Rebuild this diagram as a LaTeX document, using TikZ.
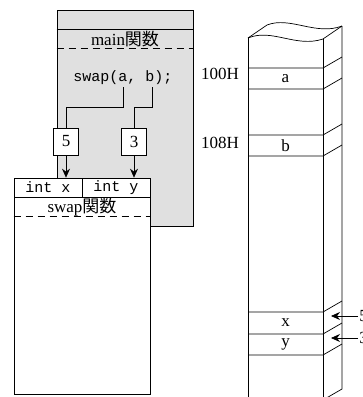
\documentclass[tikz,border=0pt]{standalone}
\usepackage{fontspec}
\setmainfont{Liberation Serif}
\setmonofont{Liberation Mono}
\newfontfamily\jp{Noto Sans CJK JP}
\usetikzlibrary{arrows.meta}

\begin{document}
\begin{tikzpicture}[x=1pt, y=-1pt, line width=0.7pt, font=\fontsize{17}{20}\selectfont]
        % Define styles
        \tikzstyle{frame} = [rectangle, draw=black, inner sep=0pt, minimum width=136pt, minimum height=216pt]
        \tikzstyle{valbox} = [rectangle, draw=black, fill=white, minimum width=25pt, minimum height=27pt, inner sep=0pt]
        \tikzstyle{cell} = [rectangle, draw=black, fill=white, minimum width=68pt, minimum height=19pt, inner sep=0pt, font=\fontsize{15}{17}\ttfamily]
        \tikzstyle{dashline} = [dash pattern=on 7pt off 5pt]
        \tikzstyle{arrow} = [-{Stealth[length=9pt, width=8pt, inset=3pt]}]

        \useasboundingbox (0,0) rectangle (363,397);

        % Nodes
        \node (mainfn) [frame, fill=black!12] at (125,118) {};
        \draw (mainfn.west |- 0,29) -- (mainfn.east |- 0,29);
        \draw [dashline] (mainfn.west |- 0,48) -- (mainfn.east |- 0,48);
        \node (mainlbl) at (125,39) {main{\jp 関数}};
        \node (call) [font=\fontsize{15}{17}\ttfamily] at (123,78) {swap(a, b);};
        \coordinate (pa) at (123,87);
        \coordinate (pb) at (152,87);

        \node (swapfn) [frame, fill=white] at (82,286) {};
        \node (intx) [cell] at (48,187.5) {int x};
        \node (inty) [cell] at (116,187.5) {int y};
        \draw [dashline] (swapfn.west |- 0,216) -- (swapfn.east |- 0,216);
        \node (swaplbl) at (82,207) {swap{\jp 関数}};

        \node (n5) [valbox] at (66,141.5) {5};
        \node (n3) [valbox] at (134,141.5) {3};

        % Memory
        \draw (248,38) .. controls (272,28) and (296,48) .. (323,39) -- (342,26);
        \draw (248,38) -- (267,25) .. controls (290,16) and (316,36) .. (342,26);
        \draw (248,38) -- (248,400);
        \draw (323,39) -- (323,400);
        \draw (342,26) -- (342,389) -- (323,400);
        \foreach \y in {68,89,135,156,312,334,355}
            \draw (248,\y) -- (323,\y) -- ++(19,-11);

        \node (cella) at (285.5,79) {a};
        \node (cellb) at (285.5,146) {b};
        \node (cellx) at (285.5,323) {x};
        \node (celly) at (285.5,344.5) {y};
        \node (adra) at (220,74) {100H};
        \node (adrb) at (220,143) {108H};

        \node (arg5) [anchor=west, inner sep=1pt] at (358,316) {5};
        \node (arg3) [anchor=west, inner sep=1pt] at (358,338) {3};
        \coordinate (tipx) at (331,316);
        \coordinate (tipy) at (331,338);

        % Arrows
        \draw (pa) -- ++(0,20) -| (n5.north);
        \draw (pb) -- ++(0,20) -| (n3.north);
        \draw [arrow] (n5) -- (n5 |- intx.north);
        \draw [arrow] (n3) -- (n3 |- inty.north);
        \draw [arrow] (arg5) -- (tipx);
        \draw [arrow] (arg3) -- (tipy);
    \end{tikzpicture}
\end{document}
